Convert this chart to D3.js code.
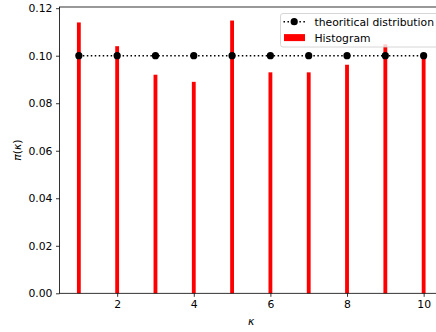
<!DOCTYPE html>
<html><head><meta charset="utf-8">
<script src="https://cdn.jsdelivr.net/npm/d3@7"></script>
<style>
body{margin:0;background:#fff;}
svg{display:block;font-family:"DejaVu Sans",sans-serif;}
</style></head>
<body><svg id="c" width="436" height="332"></svg>
<script>
const ks = [1,2,3,4,5,6,7,8,9,10];
const histValues = [0.114, 0.104, 0.092, 0.089, 0.1148, 0.093, 0.093, 0.0962, 0.1048, 0.0992];
const theoValues = [0.1,0.1,0.1,0.1,0.1,0.1,0.1,0.1,0.1,0.1];
const xTicks = [2,4,6,8,10];
const yTicks = [0,0.02,0.04,0.06,0.08,0.10,0.12];
const legendLabels = ["theoritical distribution","Histogram"];

const FS = 10.8;
const svg = d3.select("#c");
const L=59.5, R=443, T=7, B=293.3;
const x = d3.scaleLinear().domain([0.495,10.505]).range([L,R]);
const y = d3.scaleLinear().domain([0,0.1205]).range([B,T]);

// bars
const bw = x(1.1)-x(1.0);
svg.append("g").selectAll("rect").data(ks).join("rect")
  .attr("x",(d)=>x(d)-bw/2).attr("width",bw)
  .attr("y",(d,i)=>y(histValues[i])).attr("height",(d,i)=>B-y(histValues[i]))
  .attr("fill","#ff0000");

// theoretical line
const line = d3.line().x((d,i)=>x(ks[i])).y(d=>y(d));
svg.append("path").datum(theoValues).attr("d",line)
  .attr("fill","none").attr("stroke","#000").attr("stroke-width",1.5)
  .attr("stroke-dasharray","1.5,2.475");
svg.append("g").selectAll("circle").data(theoValues).join("circle")
  .attr("cx",(d,i)=>x(ks[i])).attr("cy",d=>y(d)).attr("r",3.6).attr("fill","#000");

// axes
const xAxis = d3.axisBottom(x).tickValues(xTicks).tickSize(3.5).tickPadding(3.5).tickFormat(d3.format("d"));
const gx = svg.append("g").attr("transform",`translate(0,${B})`).call(xAxis);
const yAxis = d3.axisLeft(y).tickValues(yTicks).tickSize(3.5).tickPadding(3.5).tickFormat(d3.format(".2f"));
const gy = svg.append("g").attr("transform",`translate(${L},0)`).call(yAxis);
[gx,gy].forEach(g=>{
  g.select(".domain").remove();
  g.selectAll(".tick line").attr("stroke","#000").attr("stroke-width",0.8);
  g.selectAll(".tick text").attr("fill","#000").attr("font-size",FS).attr("font-family","DejaVu Sans");
});
// spines
svg.append("rect").attr("x",L).attr("y",T).attr("width",R-L).attr("height",B-T)
  .attr("fill","none").attr("stroke","#000").attr("stroke-width",0.8);

// labels
svg.append("text").attr("x",x(7.95-2.45)).attr("y",325).attr("text-anchor","middle")
  .attr("font-size",FS).attr("font-style","italic").text("κ");
const yl = svg.append("text").attr("transform",`translate(21,${(T+B)/2}) rotate(-90)`).attr("text-anchor","middle")
  .attr("font-size",FS);
yl.append("tspan").attr("font-style","italic").text("π");
yl.append("tspan").text("(");
yl.append("tspan").attr("font-style","italic").text("κ");
yl.append("tspan").text(")");

// legend
const lg = svg.append("g");
lg.append("rect").attr("x",280.5).attr("y",13.5).attr("width",170).attr("height",33.5).attr("rx",2.5)
  .attr("fill","#fff").attr("fill-opacity",0.8).attr("stroke","#cccccc").attr("stroke-width",0.8);
const r1 = 21.7, r2 = 37.6;
lg.append("line").attr("x1",283.5).attr("x2",305).attr("y1",r1).attr("y2",r1)
  .attr("stroke","#000").attr("stroke-width",1.5).attr("stroke-dasharray","1.5,2.475");
lg.append("circle").attr("cx",294.2).attr("cy",r1).attr("r",3.6).attr("fill","#000");
lg.append("rect").attr("x",284).attr("y",r2-3.5).attr("width",21).attr("height",7).attr("fill","#ff0000");
lg.selectAll("text").data(legendLabels).join("text")
  .attr("x",314.5).attr("y",(d,i)=>[r1,r2][i]+3.9).attr("font-size",FS).text(d=>d);
</script></body></html>
